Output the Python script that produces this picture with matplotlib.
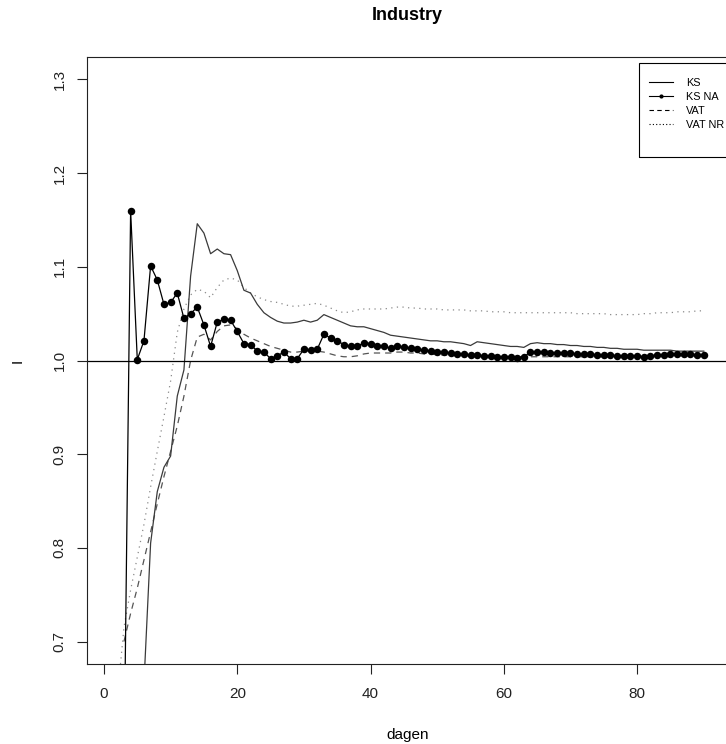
from __future__ import annotations

import matplotlib

matplotlib.use("Agg")
import numpy as np
from matplotlib import pyplot as plt
from matplotlib.lines import Line2D
from matplotlib.patches import Rectangle

FIG_W, FIG_H = 726, 744

# values, one per day up to day 90
KS_START = 6
KS = [
    0.655, 0.805, 0.860, 0.886, 0.898, 0.962, 0.990, 1.090, 1.146, 1.136,
    1.114, 1.119, 1.114, 1.113, 1.096, 1.075, 1.072, 1.060, 1.051, 1.046,
    1.042, 1.040, 1.040, 1.041, 1.043, 1.041, 1.043, 1.049, 1.046, 1.043,
    1.040, 1.037, 1.036, 1.036, 1.034, 1.032, 1.030, 1.027, 1.026, 1.025,
    1.024, 1.023, 1.022, 1.021, 1.021, 1.020, 1.020, 1.019, 1.018, 1.016,
    1.020, 1.019, 1.018, 1.017, 1.016, 1.015, 1.015, 1.014, 1.018, 1.019,
    1.018, 1.018, 1.017, 1.017, 1.016, 1.016, 1.015, 1.015, 1.014, 1.014,
    1.013, 1.013, 1.012, 1.012, 1.012, 1.011, 1.011, 1.011, 1.011, 1.011,
    1.010, 1.010, 1.010, 1.010, 1.010,
]

KS_NA_START = 3
KS_NA = [
    0.560, 1.160, 1.001, 1.021, 1.101, 1.086, 1.060, 1.062, 1.072, 1.045,
    1.050, 1.057, 1.038, 1.015, 1.041, 1.044, 1.043, 1.031, 1.018, 1.017,
    1.010, 1.009, 1.002, 1.005, 1.009, 1.002, 1.002, 1.012, 1.011, 1.012,
    1.028, 1.024, 1.021, 1.017, 1.015, 1.015, 1.019, 1.018, 1.016, 1.015,
    1.013, 1.015, 1.014, 1.013, 1.012, 1.011, 1.010, 1.009, 1.009, 1.008,
    1.007, 1.007, 1.006, 1.006, 1.005, 1.005, 1.004, 1.004, 1.004, 1.003,
    1.004, 1.009, 1.009, 1.009, 1.008, 1.008, 1.008, 1.008, 1.007, 1.007,
    1.007, 1.006, 1.006, 1.006, 1.005, 1.005, 1.005, 1.005, 1.004, 1.005,
    1.006, 1.006, 1.007, 1.007, 1.007, 1.007, 1.006, 1.006,
]

VAT_START = 3
VAT = [
    0.700, 0.730, 0.757, 0.787, 0.817, 0.847, 0.876, 0.903, 0.930, 0.962,
    1.000, 1.025, 1.028, 1.022, 1.031, 1.037, 1.038, 1.034, 1.028, 1.024,
    1.021, 1.018, 1.015, 1.013, 1.011, 1.009, 1.009, 1.010, 1.010, 1.010,
    1.009, 1.007, 1.005, 1.004, 1.004, 1.005, 1.007, 1.008, 1.008, 1.008,
    1.008, 1.009, 1.009, 1.008, 1.008, 1.007, 1.007, 1.006, 1.006, 1.006,
    1.005, 1.005, 1.005, 1.005, 1.004, 1.004, 1.004, 1.004, 1.004, 1.004,
    1.004, 1.004, 1.004, 1.004, 1.004, 1.004, 1.004, 1.004, 1.004, 1.004,
    1.004, 1.004, 1.004, 1.004, 1.005, 1.005, 1.005, 1.005, 1.005, 1.005,
    1.005, 1.005, 1.005, 1.005, 1.005, 1.005, 1.005, 1.005,
]

VAT_NR_START = 2
VAT_NR = [
    0.640, 0.715, 0.755, 0.790, 0.825, 0.865, 0.903, 0.940, 0.978, 1.030,
    1.055, 1.070, 1.076, 1.074, 1.067, 1.078, 1.086, 1.088, 1.086, 1.078,
    1.072, 1.068, 1.065, 1.063, 1.062, 1.060, 1.058, 1.058, 1.059, 1.060,
    1.061, 1.059, 1.056, 1.053, 1.051, 1.052, 1.054, 1.055, 1.055, 1.055,
    1.055, 1.056, 1.057, 1.057, 1.056, 1.056, 1.055, 1.055, 1.055, 1.054,
    1.054, 1.054, 1.054, 1.053, 1.053, 1.053, 1.052, 1.052, 1.052, 1.051,
    1.051, 1.051, 1.051, 1.051, 1.051, 1.051, 1.051, 1.051, 1.051, 1.050,
    1.050, 1.050, 1.050, 1.050, 1.049, 1.049, 1.049, 1.049, 1.049, 1.050,
    1.050, 1.051, 1.051, 1.051, 1.052, 1.052, 1.052, 1.053, 1.053,
]

LABELS = ["KS", "KS NA", "VAT", "VAT NR"]
X_TICKS = [0, 20, 40, 60, 80]
Y_TICKS = [0.7, 0.8, 0.9, 1.0, 1.1, 1.2, 1.3]


def days(start: int, values: list[float]) -> np.ndarray:
    return np.arange(start, start + len(values))


def px_box(left: float, top: float, right: float, bottom: float) -> list[float]:
    return [left / FIG_W, 1 - bottom / FIG_H, (right - left) / FIG_W, (bottom - top) / FIG_H]


def main() -> None:
    plt.rcParams["font.family"] = ["Liberation Sans", "DejaVu Sans"]
    fig = plt.figure(figsize=(FIG_W / 100, FIG_H / 100), dpi=100)
    ax = fig.add_axes(px_box(86.9, 57, 727.5, 664))

    lw = 0.9
    ax.plot(days(VAT_NR_START, VAT_NR), VAT_NR, color="#8a8a8a", lw=lw, dashes=(1, 3.5))
    ax.plot(days(VAT_START, VAT), VAT, color="#555555", lw=lw, dashes=(5, 4))
    ax.plot(days(KS_START, KS), KS, color="#3a3a3a", lw=lw)
    ax.plot(days(KS_NA_START, KS_NA), KS_NA, color="black", lw=lw,
            marker="o", markersize=5.4, markeredgewidth=0)
    ax.axhline(1.0, color="black", lw=0.9)

    ax.set_xlim(-2.56, 93.56)
    ax.set_ylim(0.676, 1.324)
    ax.set_xticks(X_TICKS)
    ax.set_yticks(Y_TICKS)
    ax.set_yticklabels([f"{v:.1f}" for v in Y_TICKS], rotation=90, va="center")
    ax.tick_params(axis="both", direction="out", length=7.5, width=0.8, labelsize=11, colors="#222222")
    ax.tick_params(axis="x", pad=9)
    ax.tick_params(axis="y", pad=7)
    for side in ("top", "right", "bottom", "left"):
        ax.spines[side].set_linewidth(0.8)
        ax.spines[side].set_color("#222222")

    ax.set_xlabel("dagen", fontsize=11)
    ax.xaxis.set_label_coords(0.5, -(735 - 664) / (664 - 57), transform=ax.transAxes)
    ax.xaxis.label.set_va("center")
    ax.set_ylabel("I", fontsize=11)
    ax.yaxis.set_label_coords(-(86.9 - 18) / (727.5 - 86.9), 0.5, transform=ax.transAxes)
    ax.yaxis.label.set_va("center")

    fig.text(407 / FIG_W, 1 - 16 / FIG_H, "Industry", ha="center", va="center",
             fontsize=13, fontweight="bold")

    # legend box, open towards the right edge like the reference
    fig.patches.append(Rectangle((639 / FIG_W, 1 - 157 / FIG_H), 0.2, (157 - 62.7) / FIG_H,
                                 transform=fig.transFigure, fill=False, ec="black", lw=0.8))
    handles = [
        Line2D([], [], color="black", lw=0.8),
        Line2D([], [], color="black", lw=0.8, marker="o", markersize=3, markeredgewidth=0),
        Line2D([], [], color="black", lw=0.8, dashes=(4, 3)),
        Line2D([], [], color="black", lw=0.8, dashes=(1, 2)),
    ]
    fig.legend(handles, LABELS, loc="upper left", bbox_to_anchor=(649 / FIG_W, 1 - 78 / FIG_H),
               bbox_transform=fig.transFigure, frameon=False, fontsize=7.8, borderpad=0,
               borderaxespad=0, handlelength=2.2, handletextpad=1.2, labelspacing=0.36)

    fig.savefig("out.png", dpi=100)
    plt.close(fig)


if __name__ == "__main__":
    main()
